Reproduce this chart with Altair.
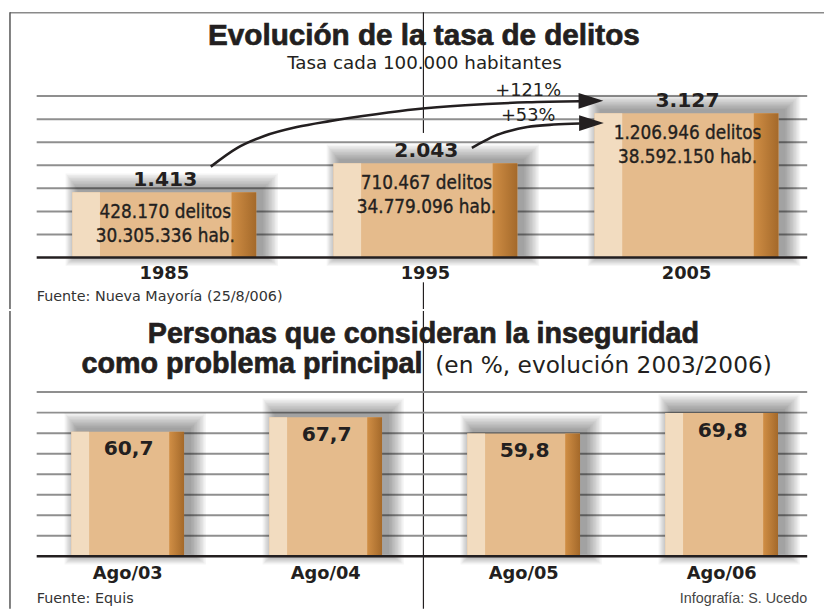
import altair as alt
import pandas as pd

# ---------------- data ----------------
years = ["1985", "1995", "2005"]
rates = [1413, 2043, 3127]
rate_labels = ["1.413", "2.043", "3.127"]
crimes = ["428.170 delitos", "710.467 delitos", "1.206.946 delitos"]
population = ["30.305.336 hab.", "34.779.096 hab.", "38.592.150 hab."]
growth_labels = ["+121%", "+53%"]
rate_grid = [500, 1000, 1500, 2000, 2500, 3000, 3500]

periods = ["Ago/03", "Ago/04", "Ago/05", "Ago/06"]
shares = [60.7, 67.7, 59.8, 69.8]
share_labels = ["60,7", "67,7", "59,8", "69,8"]
share_grid = [10, 20, 30, 40, 50, 60, 70, 80]

# annotation arrows (bar-index units, rate units)
arrow_121_x = [0.178, 0.280, 0.383, 0.508, 0.633, 0.811, 0.962, 1.152, 1.390, 1.591]
arrow_121_y = [1971, 2379, 2636, 2829, 2957, 3107, 3214, 3300, 3364, 3386]
arrow_53_x = [1.178, 1.227, 1.265, 1.322, 1.390, 1.492, 1.591]
arrow_53_y = [2379, 2529, 2636, 2743, 2829, 2882, 2904]
head_x = [1.634, 1.636]
head_y = [3396, 2914]
growth_x = [1.386, 1.386]
growth_y = [3493, 2957]

# ---------------- style ----------------
INK = "#231f20"
LIGHT = "#F2DCC0"
MAIN = "#E5BB8C"
GRID = "#8f8f8f"
DARK = alt.Gradient(
    gradient="linear",
    stops=[alt.GradientStop(color="#D08E45", offset=0),
           alt.GradientStop(color="#A4692A", offset=1)],
    x1=0, x2=1, y1=0, y2=0,
)
NARROW = "Liberation Sans Narrow, DejaVu Sans Condensed, Liberation Sans"
W = 825
H1, H2 = 300, 301

XS1 = alt.Scale(domain=[0, 2], range=[158, 686], nice=False, zero=False)
YS1 = alt.Scale(domain=[0, 3500], range=[248, 84.7], nice=False, zero=False)
PXX1, PXY1 = 264.0, (248 - 84.7) / 3500
XS2 = alt.Scale(domain=[0, 3], range=[121, 721.5], nice=False, zero=False)
YS2 = alt.Scale(domain=[0, 80], range=[248, 82], nice=False, zero=False)
PXX2, PXY2 = (721.5 - 121) / 3, 166 / 80

dummy = pd.DataFrame({"d": [0]})
SPREADS = [16, 14.5, 13, 11.5, 10, 8.5, 7, 5.5, 4, 2.5, 1]


def bar_layers(values, half, light, dark, pxx, pxy, xs, ys):
    n = len(values)
    df = pd.DataFrame({"i": list(range(n)), "v": values})
    df["lo"] = df["i"] - half / pxx
    df["hi"] = df["i"] + half / pxx
    df["lhi"] = df["lo"] + light / pxx
    df["dlo"] = df["hi"] - dark / pxx
    df["base"] = 0.0
    rows = []
    for s in SPREADS:
        for _, r in df.iterrows():
            rows.append({
                "x1": r["lo"] + (6 - s * 0.8) / pxx,
                "x2": r["hi"] + (6 + s) / pxx,
                "y1": (3 - s * 0.7) / pxy,
                "y2": r["v"] + (3 + s) / pxy,
            })
    sh = pd.DataFrame(rows)
    shadow = alt.Chart(sh).mark_rect(color="#222222", opacity=0.045).encode(
        x=alt.X("x1:Q", scale=xs, axis=None), x2="x2:Q",
        y=alt.Y("y1:Q", scale=ys, axis=None), y2="y2:Q")

    def part(x1, x2, color):
        return alt.Chart(df).mark_rect(color=color).encode(
            x=alt.X(f"{x1}:Q", scale=xs, axis=None), x2=f"{x2}:Q",
            y=alt.Y("v:Q", scale=ys, axis=None), y2="base:Q")

    return [shadow, part("lo", "hi", MAIN), part("lo", "lhi", LIGHT), part("dlo", "hi", DARK)]


def grid_layers(vals, xs, ys):
    g = pd.DataFrame({"g": vals})
    return alt.Chart(g).mark_rule(color=GRID, strokeWidth=2).encode(
        y=alt.Y("g:Q", scale=ys, axis=None), x=alt.value(29), x2=alt.value(808))


def baseline_layer(ys):
    b = pd.DataFrame({"b": [0]})
    return alt.Chart(b).mark_rule(color=INK, strokeWidth=2.5).encode(
        y=alt.Y("b:Q", scale=ys, axis=None), x=alt.value(29), x2=alt.value(808))


def vline(y1, y2, x=420, color=INK, width=1.2):
    return alt.Chart(dummy).mark_rule(color=color, strokeWidth=width).encode(
        x=alt.value(x), y=alt.value(y1), y2=alt.value(y2))


def label(text, x, y, size, weight="normal", font="DejaVu Sans", align="center",
          color=INK, stroke=None):
    kw = dict(text=text, fontSize=size, fontWeight=weight, font=font, align=align,
              baseline="alphabetic", color=color)
    if stroke:
        kw.update(stroke=color, strokeWidth=stroke)
    return alt.Chart(dummy).mark_text(**kw).encode(x=alt.value(x), y=alt.value(y))


# ---------------- top panel ----------------
top_df = pd.DataFrame({"i": list(range(3)), "v": rates, "year": years, "lab": rate_labels,
                       "c": crimes, "p": population, "base": [0.0] * 3})

arrows = pd.DataFrame({
    "x": arrow_121_x + arrow_53_x,
    "y": arrow_121_y + arrow_53_y,
    "k": list(range(len(arrow_121_x))) + list(range(len(arrow_53_x))),
    "a": ["a121"] * len(arrow_121_x) + ["a53"] * len(arrow_53_x),
})
heads = pd.DataFrame({"x": head_x, "y": head_y})
growth = pd.DataFrame({"x": growth_x, "y": growth_y, "t": growth_labels})

tx = alt.X("i:Q", scale=XS1, axis=None)
ty = alt.Y("v:Q", scale=YS1, axis=None)
inner = dict(font=NARROW, fontSize=19, baseline="alphabetic", dx=1, color=INK,
             stroke=INK, strokeWidth=0.35)

top_layers = [
    alt.Chart(dummy).mark_rule(color="#8a8a8a", strokeWidth=1.5).encode(
        x=alt.value(2), x2=alt.value(W), y=alt.value(0.5)),
    vline(0, H1, x=2, color="#555555", width=1.5),
    vline(0, 122),
    vline(273, H1),
    grid_layers(rate_grid, XS1, YS1),
] + bar_layers(rates, 93, 28, 25, PXX1, PXY1, XS1, YS1) + [
    baseline_layer(YS1),
    alt.Chart(top_df).mark_text(font="DejaVu Sans", fontWeight="bold", fontSize=20.5,
                                baseline="alphabetic", dy=-6, dx=1, color=INK).encode(
        x=tx, y=ty, text="lab:N"),
    alt.Chart(top_df).mark_text(dy=26, **inner).encode(x=tx, y=ty, text="c:N"),
    alt.Chart(top_df).mark_text(dy=50, **inner).encode(x=tx, y=ty, text="p:N"),
    alt.Chart(top_df).mark_text(font="DejaVu Sans", fontWeight="bold", fontSize=18,
                                baseline="alphabetic", dy=22, color=INK).encode(
        x=tx, y=alt.Y("base:Q", scale=YS1, axis=None), text="year:N"),
    alt.Chart(arrows).mark_line(color=INK, strokeWidth=2.6, interpolate="monotone").encode(
        x=alt.X("x:Q", scale=XS1, axis=None), y=alt.Y("y:Q", scale=YS1, axis=None),
        detail="a:N", order="k:Q"),
    alt.Chart(heads).mark_point(shape="M-1,-0.64L1,0L-1,0.64Z", size=625, filled=True,
                                color=INK, opacity=1, strokeWidth=0).encode(
        x=alt.X("x:Q", scale=XS1, axis=None), y=alt.Y("y:Q", scale=YS1, axis=None)),
    alt.Chart(growth).mark_text(font="DejaVu Sans", fontSize=18, baseline="alphabetic",
                                dx=2, color=INK).encode(
        x=alt.X("x:Q", scale=XS1, axis=None), y=alt.Y("y:Q", scale=YS1, axis=None),
        text="t:N"),
    label("Evolución de la tasa de delitos", 420.5, 33, 30, "bold", "Liberation Sans",
          stroke=0.7),
    label("Tasa cada 100.000 habitantes", 421, 57, 18.5),
    label("Fuente: Nueva Mayoría (25/8/006)", 29, 292, 14.5, align="left", color="#333333"),
]
top = alt.layer(*top_layers).properties(width=W, height=H1)

# ---------------- bottom panel ----------------
bot_df = pd.DataFrame({"i": list(range(4)), "v": shares, "per": periods,
                       "lab": share_labels, "base": [0.0] * 4})
bx = alt.X("i:Q", scale=XS2, axis=None)
by = alt.Y("v:Q", scale=YS2, axis=None)

bot_layers = [
    vline(0, H2, x=2, color="#555555", width=1.5),
    vline(0, H2),
    grid_layers(share_grid, XS2, YS2),
] + bar_layers(shares, 57, 18, 15, PXX2, PXY2, XS2, YS2) + [
    baseline_layer(YS2),
    alt.Chart(bot_df).mark_text(font="DejaVu Sans", fontWeight="bold", fontSize=20.5,
                                baseline="alphabetic", dy=24, dx=1, color=INK).encode(
        x=bx, y=by, text="lab:N"),
    alt.Chart(bot_df).mark_text(font="DejaVu Sans", fontWeight="bold", fontSize=18,
                                baseline="alphabetic", dy=23, color=INK).encode(
        x=bx, y=alt.Y("base:Q", scale=YS2, axis=None), text="per:N"),
    label("Personas que consideran la inseguridad", 420, 32, 29, "bold", "Liberation Sans",
          stroke=0.7),
    label("como problema principal", 419, 63, 29, "bold", "Liberation Sans", align="right",
          stroke=0.7),
    label("(en %, evolución 2003/2006)", 432, 63, 23.5, align="left"),
    label("Fuente: Equis", 29, 295, 14.5, align="left", color="#333333"),
    label("Infografía: S. Ucedo", 808, 295, 14.5, align="right", color="#444444",
          font="Liberation Sans"),
]
bottom = alt.layer(*bot_layers).properties(width=W, height=H2)

chart = alt.vconcat(top, bottom, spacing=0).properties(
    padding=0, background="white"
).configure_view(stroke=None)

chart.save("out.html", embed_options={"renderer": "svg", "actions": False})
